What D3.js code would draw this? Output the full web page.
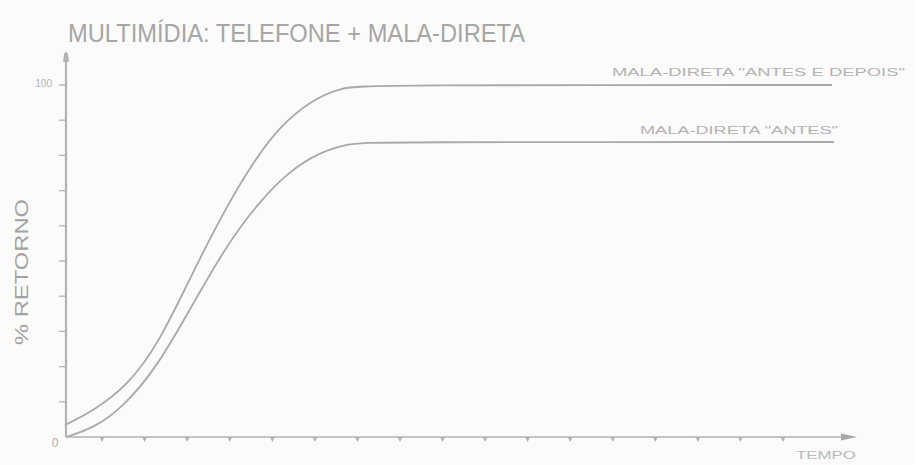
<!DOCTYPE html>
<html>
<head>
<meta charset="utf-8">
<script src="https://cdn.jsdelivr.net/npm/d3@7"></script>
<style>
  html, body { margin: 0; padding: 0; background: #fbfbfb; }
  svg { display: block; }
</style>
</head>
<body>
<svg id="chart" width="915" height="465"></svg>
<script>
// ---- Data ----
const title = "MULTIMÍDIA: TELEFONE + MALA-DIRETA";
const yAxisLabel = "% RETORNO";
const xAxisLabel = "TEMPO";
const yTickLabels = ["0", "100"];
const yTicks = [0, 10, 20, 30, 40, 50, 60, 70, 80, 90, 100];
const xTicks = [1, 2, 3, 4, 5, 6, 7, 8, 9, 10, 11, 12, 13, 14, 15, 16, 17];
const seriesNames = ['MALA-DIRETA "ANTES E DEPOIS"', 'MALA-DIRETA "ANTES"'];
// time units (tick spacing = 1) and % return
const seriesAntesDepoisX = [0.13, 0.13, 0.8, 1.6, 2.35, 3.1, 3.9, 4.6, 5.2, 5.9, 6.6, 7.3, 18.15, 18.15];
const seriesAntesDepoisY = [3.4, 3.4, 7.5, 14.5, 27, 46, 65, 79, 88.5, 95.5, 99.3, 100, 100, 100];
const seriesAntesX = [0.15, 0.15, 0.8, 1.5, 2.3, 3.1, 3.9, 4.7, 5.4, 6.1, 6.8, 7.4, 18.2, 18.2];
const seriesAntesY = [0, 0, 2.5, 8.5, 20, 37, 54, 67, 75.5, 80.8, 83.4, 83.8, 83.8, 83.8];

// ---- Layout ----
const svg = d3.select("#chart");
const x = d3.scaleLinear().domain([0, 18.5]).range([59.5, 59.5 + 18.5 * 42.56]);
const y = d3.scaleLinear().domain([0, 100]).range([437, 85]);
const axisColor = "#b2b2b2";
const lineColor = "#a9a9a9";
const textColor = "#a3a3a3";

svg.append("rect").attr("width", 915).attr("height", 465).attr("fill", "#fbfbfb");

// Title
svg.append("text")
  .attr("x", 68).attr("y", 42)
  .attr("font-family", "Liberation Sans, Arial, sans-serif")
  .attr("font-size", 26)
  .attr("fill", "#a6a6a6")
  .attr("textLength", 457)
  .attr("lengthAdjust", "spacingAndGlyphs")
  .text(title);

// Y axis line with rounded arrow top
const x0 = 66;
svg.append("line")
  .attr("x1", x0).attr("x2", x0)
  .attr("y1", y(0)).attr("y2", 58)
  .attr("stroke", axisColor).attr("stroke-width", 2.2);
svg.append("path")
  .attr("d", `M${x0 - 3},62 L${x0 - 2},54 Q${x0},50 ${x0 + 2},54 L${x0 + 3},62 Z`)
  .attr("fill", axisColor);

// Y ticks (left of axis)
svg.append("g").selectAll("line")
  .data(yTicks.filter(d => d > 0))
  .join("line")
  .attr("x1", x0 - 7).attr("x2", x0)
  .attr("y1", d => y(d)).attr("y2", d => y(d))
  .attr("stroke", axisColor).attr("stroke-width", 1.3);

// Y tick labels
svg.append("text")
  .attr("x", 52).attr("y", 87)
  .attr("text-anchor", "end")
  .attr("font-family", "Liberation Sans, Arial, sans-serif")
  .attr("font-size", 10).attr("fill", "#b5b5b5")
  .text(yTickLabels[1]);
svg.append("text")
  .attr("x", 55).attr("y", 447)
  .attr("text-anchor", "middle")
  .attr("font-family", "Liberation Sans, Arial, sans-serif")
  .attr("font-size", 12).attr("fill", "#b0b0b0")
  .text(yTickLabels[0]);

// Y axis title
svg.append("text")
  .attr("transform", "translate(28,272) rotate(-90)")
  .attr("text-anchor", "middle")
  .attr("font-family", "Liberation Sans, Arial, sans-serif")
  .attr("font-size", 18).attr("fill", textColor)
  .attr("textLength", 146)
  .attr("lengthAdjust", "spacingAndGlyphs")
  .text(yAxisLabel);

// X axis line with arrow
svg.append("line")
  .attr("x1", x0).attr("x2", 845)
  .attr("y1", y(0)).attr("y2", y(0))
  .attr("stroke", axisColor).attr("stroke-width", 1.6);
svg.append("path")
  .attr("d", `M841,${y(0) - 3.5} L857,${y(0)} L841,${y(0) + 3.5} Z`)
  .attr("fill", "#a8a8a8");

// X ticks (small triangles below axis)
svg.append("g").selectAll("path")
  .data(xTicks)
  .join("path")
  .attr("d", d => `M${x(d) - 2.5},${y(0)} L${x(d) + 2.5},${y(0)} L${x(d)},${y(0) + 5} Z`)
  .attr("fill", axisColor);

// X axis title
svg.append("text")
  .attr("x", 826).attr("y", 459)
  .attr("text-anchor", "middle")
  .attr("font-family", "Liberation Sans, Arial, sans-serif")
  .attr("font-size", 10).attr("fill", "#b8b8b8")
  .attr("textLength", 60)
  .attr("lengthAdjust", "spacingAndGlyphs")
  .text(xAxisLabel);

// Curves
const line = d3.line()
  .x(d => x(d[0]))
  .y(d => y(d[1]))
  .curve(d3.curveBasis);

const s1 = d3.zip(seriesAntesDepoisX, seriesAntesDepoisY);
const s2 = d3.zip(seriesAntesX, seriesAntesY);

svg.append("path")
  .datum(s1)
  .attr("d", line)
  .attr("fill", "none")
  .attr("stroke", lineColor)
  .attr("stroke-width", 1.8);

svg.append("path")
  .datum(s2)
  .attr("d", line)
  .attr("fill", "none")
  .attr("stroke", lineColor)
  .attr("stroke-width", 1.8);

// Series labels
svg.append("text")
  .attr("x", 612).attr("y", 76)
  .attr("font-family", "Liberation Sans, Arial, sans-serif")
  .attr("font-size", 11).attr("fill", "#b3b3b3")
  .attr("textLength", 293)
  .attr("lengthAdjust", "spacingAndGlyphs")
  .text(seriesNames[0]);
svg.append("text")
  .attr("x", 640).attr("y", 134)
  .attr("font-family", "Liberation Sans, Arial, sans-serif")
  .attr("font-size", 11).attr("fill", "#b3b3b3")
  .attr("textLength", 198)
  .attr("lengthAdjust", "spacingAndGlyphs")
  .text(seriesNames[1]);
</script>
</body>
</html>
